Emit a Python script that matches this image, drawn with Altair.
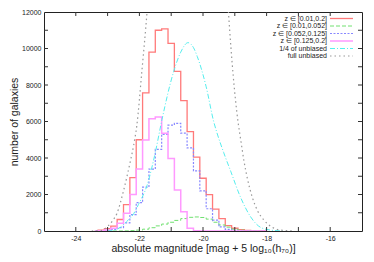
import altair as alt
import pandas as pd

W, H = 318, 219

# ---- histogram data (bin centres, 0.2 mag bins) ----
centers = [-23.4, -23.2, -23.0, -22.8, -22.6, -22.4, -22.2, -22.0, -21.8, -21.6,
           -21.4, -21.2, -21.0, -20.8, -20.6, -20.4, -20.2, -20.0, -19.8, -19.6,
           -19.4, -19.2, -19.0, -18.8, -18.6, -18.4, -18.2, -18.0]
z_all = [0, 50, 130, 270, 630, 1450, 2920, 5000, 7570, 9800,
         11000, 11070, 10280, 8750, 7140, 5450, 4050, 2890, 1990, 1200,
         680, 300, 150, 70, 30, 10, 0, 0]
z_low = [0, 0, 0, 0, 0, 5, 20, 50, 100, 180,
         280, 380, 480, 580, 680, 750, 770, 740, 650, 480,
         330, 210, 100, 50, 20, 5, 0, 0]
z_mid = [0, 10, 40, 90, 180, 450, 900, 1550, 2400, 3390,
         4470, 5300, 5800, 5900, 5360, 4550, 3290, 2200, 1220, 600,
         230, 90, 40, 15, 5, 0, 0, 0]
z_high = [0, 20, 50, 150, 430, 970, 2000, 3400, 4990, 6150,
          6250, 5360, 3970, 2250, 1060, 150, 20, 5, 0, 0,
          0, 0, 0, 0, 0, 0, 0, 0]

# ---- smooth curves ----
quarter_M = [-23.0, -22.85, -22.6, -22.4, -22.18, -22.03, -21.76, -21.5, -21.29, -20.92,
             -20.7, -20.47, -20.3, -20.18, -19.9, -19.66, -19.57, -19.35, -19.13, -18.82,
             -18.5, -18.19, -17.87, -17.5]
quarter_N = [0, 20, 200, 520, 950, 1450, 2500, 4300, 6100, 8750,
             9800, 10320, 10050, 9560, 7900, 5970, 5430, 4300, 3280, 1850,
             770, 200, 50, 5]
full_M = [-23.5, -23.23, -23.0, -22.85, -22.71, -22.5, -22.3, -22.18, -22.08, -21.92,
          -21.76, -21.5, -20.5, -19.45, -19.2, -18.9, -18.82, -18.71, -18.61, -18.45,
          -18.29, -18.08, -17.82, -17.55, -17.2]
full_N = [0, 20, 250, 550, 950, 2200, 3700, 4700, 5800, 8800,
          12000, 19000, 41000, 20000, 12000, 6000, 5070, 3820, 2920, 1850,
          1130, 590, 200, 50, 5]

x_tick_vals = [-24, -23, -22, -21, -20, -19, -18, -17, -16]
x_label_vals = [-24, -22, -20, -18, -16]
y_tick_vals = [1000, 2000, 3000, 4000, 5000, 6000, 7000, 8000, 9000, 10000, 11000]
y_label_vals = [0, 2000, 4000, 6000, 8000, 10000, 12000]

legend_labels = ["z \u2208 [0.01,0.2]", "z \u2208 [0.01,0.052]", "z \u2208 [0.052,0.125]",
                 "z \u2208 [0.125,0.2]", "1/4 of unbiased", "full unbiased"]

FONT = "Liberation Sans"
xs = alt.Scale(domain=[-25, -15], nice=False, zero=False)
ys = alt.Scale(domain=[0, 12000], nice=False)

x_axis = alt.Axis(values=x_label_vals, labelExpr="'' + datum.value", ticks=False, tickSize=0,
                  domain=False, grid=False, labelFont=FONT, labelFontSize=7, labelColor="#222",
                  labelPadding=3, title="absolute magnitude [mag + 5 log\u2081\u2080(h\u2087\u2080)]",
                  titleFont=FONT, titleFontSize=10.5, titleFontWeight="normal", titleColor="#222",
                  titleBaseline="alphabetic", titleY=20.5)
y_axis = alt.Axis(values=y_label_vals, labelExpr="'' + datum.value", ticks=False, tickSize=0,
                  domain=False, grid=False, labelFont=FONT, labelFontSize=7, labelColor="#222",
                  labelPadding=3, title="number of galaxies", titleFont=FONT, titleFontSize=10.5,
                  titleFontWeight="normal", titleColor="#222", titleAngle=270,
                  titleBaseline="middle", titleX=-30, titleY=H / 2)


def X(field="x"):
    return alt.X(f"{field}:Q", scale=xs, axis=x_axis)


def Y(field="y"):
    return alt.Y(f"{field}:Q", scale=ys, axis=y_axis)


def hist_layer(vals, color, width, dash=None):
    df = pd.DataFrame({"x": centers, "y": vals})
    kw = dict(interpolate="step", color=color, strokeWidth=width, clip=True)
    if dash:
        kw["strokeDash"] = dash
    return alt.Chart(df).mark_line(**kw).encode(x=X(), y=Y())


def curve_layer(ms, ns, color, width, dash):
    df = pd.DataFrame({"x": ms, "y": ns})
    return alt.Chart(df).mark_line(interpolate="monotone", color=color, strokeWidth=width,
                                   strokeDash=dash, clip=True).encode(x=X(), y=Y())


styles = [
    ("#ff7a7a", 1.3, None),
    ("#70e070", 1.0, [4, 2]),
    ("#8888ff", 1.2, [2, 1.5]),
    ("#ff99ff", 1.5, None),
    ("#55eeee", 1.0, [5, 2, 1, 2]),
    ("#999999", 1.2, [1.5, 3]),
]

layers = [
    hist_layer(z_all, *styles[0]),
    hist_layer(z_low, *styles[1]),
    hist_layer(z_mid, *styles[2]),
    hist_layer(z_high, *styles[3]),
    curve_layer(quarter_M, quarter_N, *styles[4]),
    curve_layer(full_M, full_N, *styles[5]),
]

# inward ticks on all four sides
TK = 4
xt = pd.DataFrame({"x": x_tick_vals})
yt = pd.DataFrame({"y": y_tick_vals})
tick_col = "#333"
layers += [
    alt.Chart(xt).mark_rule(color=tick_col, strokeWidth=1).encode(x=X(), y=alt.value(H), y2=alt.value(H - TK)),
    alt.Chart(xt).mark_rule(color=tick_col, strokeWidth=1).encode(x=X(), y=alt.value(0), y2=alt.value(TK)),
    alt.Chart(yt).mark_rule(color=tick_col, strokeWidth=1).encode(y=Y(), x=alt.value(0), x2=alt.value(TK)),
    alt.Chart(yt).mark_rule(color=tick_col, strokeWidth=1).encode(y=Y(), x=alt.value(W), x2=alt.value(W - TK)),
]

# key in the top right corner (labels right-aligned, samples to the right)
row_y = [6.5, 14, 21.5, 29, 36.5, 44]
for i, lab in enumerate(legend_labels):
    color, width, dash = styles[i]
    tdf = pd.DataFrame({"label": [lab]})
    layers.append(
        alt.Chart(tdf).mark_text(align="right", baseline="middle", font=FONT, fontSize=7,
                                 color="#222").encode(x=alt.value(283), y=alt.value(row_y[i]),
                                                      text="label:N"))
    kw = dict(color=color, strokeWidth=width)
    if dash:
        kw["strokeDash"] = dash
    layers.append(
        alt.Chart(tdf).mark_rule(**kw).encode(x=alt.value(286), x2=alt.value(309),
                                              y=alt.value(row_y[i])))

chart = alt.layer(*layers).properties(
    width=W, height=H,
    autosize=alt.AutoSizeParams(type="none"),
    padding={"left": 36, "top": 4, "right": 4, "bottom": 26},
).configure_view(stroke="#222", strokeWidth=1)

chart.save("out.html", embed_options={"renderer": "svg", "actions": False})
